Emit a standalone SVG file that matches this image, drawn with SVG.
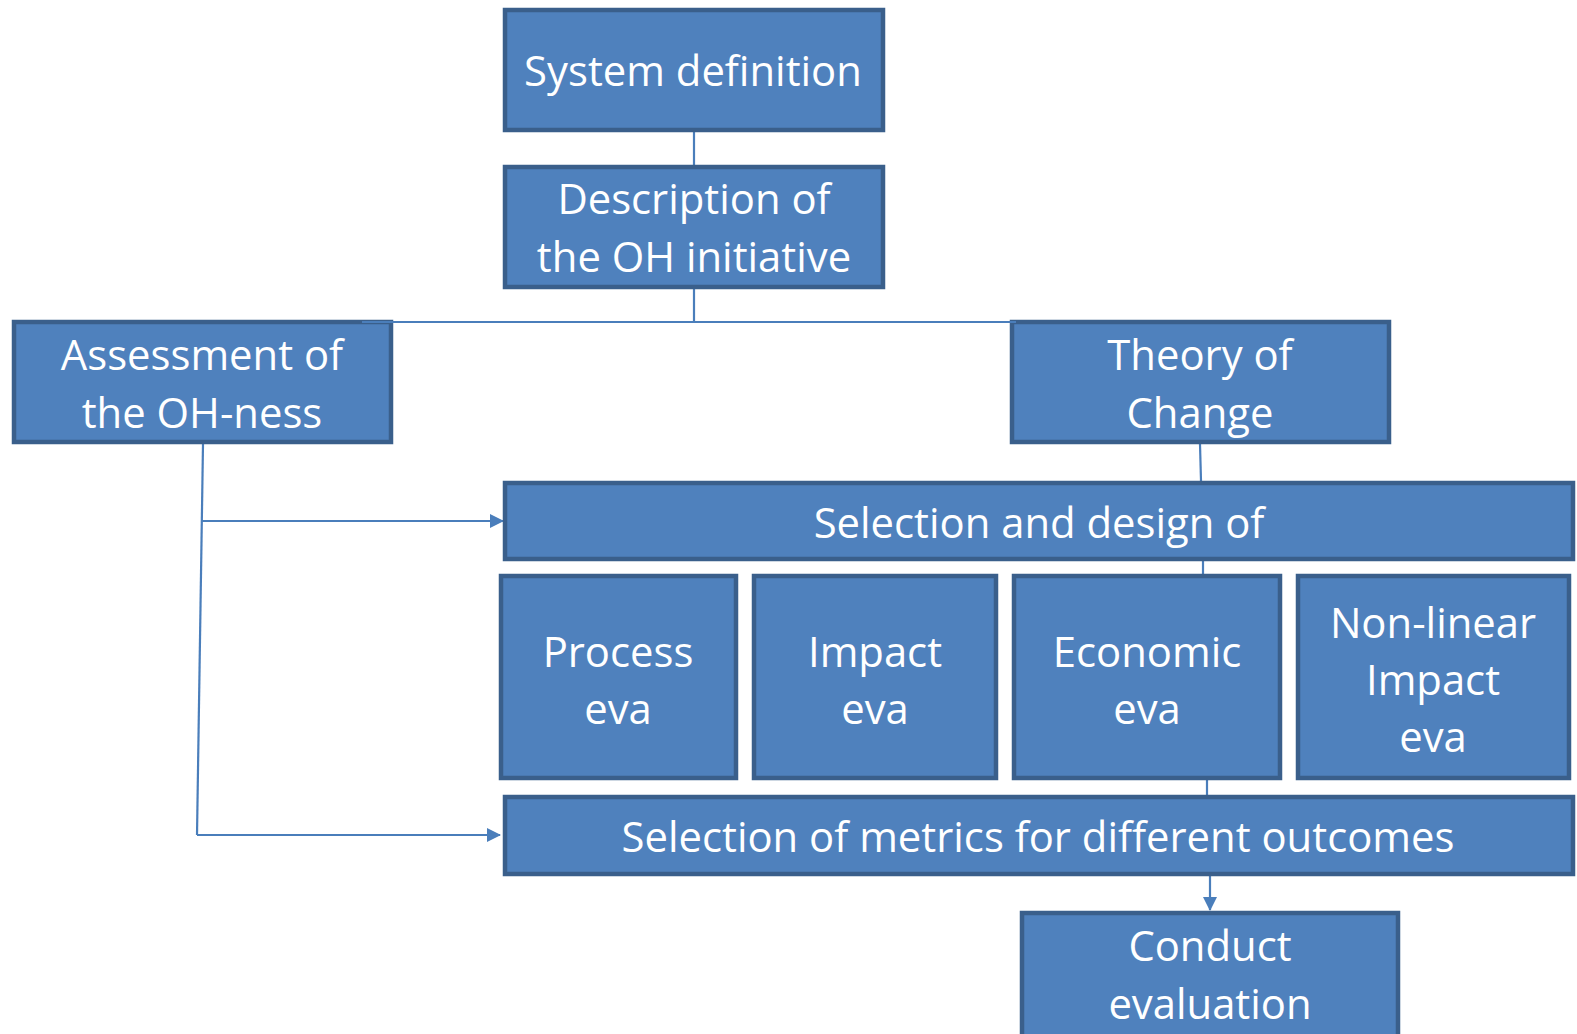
<svg xmlns="http://www.w3.org/2000/svg" width="1577" height="1034" viewBox="0 0 1577 1034">
<defs>
<style>
.box{fill:#4F81BD;stroke:#3A5F8B;stroke-width:4.5;}
.t{font-family:"Open Sans","Noto Sans","Liberation Sans",sans-serif;font-size:41.8px;fill:#FFFFFF;text-anchor:middle;}
.c{fill:none;stroke:#4A7EBB;stroke-width:2.2;}
</style>
<marker id="ahb" markerWidth="14" markerHeight="14" refX="13" refY="7" orient="auto" markerUnits="userSpaceOnUse" viewBox="0 0 14 14">
<path d="M0,0 L14,7 L0,14 z" fill="#4A7EBB"/>
</marker>
</defs>
<rect width="1577" height="1034" fill="#FFFFFF"/>
<g id="connectors">
<line class="c" x1="694" y1="132" x2="694" y2="165"/>
<line class="c" x1="694" y1="289" x2="694" y2="322"/>
<line class="c" x1="1200" y1="444" x2="1201" y2="481"/>
<line class="c" x1="1203" y1="561" x2="1203" y2="574"/>
<line class="c" x1="1207" y1="780" x2="1207" y2="795"/>
<line class="c" x1="1210" y1="876" x2="1210" y2="910" marker-end="url(#ahb)"/>
<line class="c" x1="203" y1="444" x2="197" y2="835"/>
<line class="c" x1="202" y1="521" x2="503" y2="521" marker-end="url(#ahb)"/>
<line class="c" x1="197" y1="835" x2="500" y2="835" marker-end="url(#ahb)"/>
</g>
<g id="system-definition">
<rect class="box" x="505" y="10" width="378" height="120"/>
<text class="t" x="693" y="86">System definition</text>
</g>
<g id="description">
<rect class="box" x="505" y="167" width="378" height="120"/>
<text class="t" x="694" y="214">Description of</text>
<text class="t" x="694" y="272">the OH initiative</text>
</g>
<g id="assessment">
<rect class="box" x="14" y="322" width="377" height="120"/>
<text class="t" x="202" y="370">Assessment of</text>
<text class="t" x="202" y="428">the OH-ness</text>
</g>
<g id="theory-of-change">
<rect class="box" x="1012" y="322" width="377" height="120"/>
<text class="t" x="1200" y="370">Theory of</text>
<text class="t" x="1200" y="428">Change</text>
</g>
<g id="selection-design">
<rect class="box" x="505" y="483" width="1068" height="76"/>
<text class="t" x="1039" y="538">Selection and design of</text>
</g>
<g id="process-eva">
<rect class="box" x="501" y="576" width="235" height="202"/>
<text class="t" x="618" y="667">Process</text>
<text class="t" x="618" y="724">eva</text>
</g>
<g id="impact-eva">
<rect class="box" x="754" y="576" width="242" height="202"/>
<text class="t" x="875" y="667">Impact</text>
<text class="t" x="875" y="724">eva</text>
</g>
<g id="economic-eva">
<rect class="box" x="1014" y="576" width="266" height="202"/>
<text class="t" x="1147" y="667">Economic</text>
<text class="t" x="1147" y="724">eva</text>
</g>
<g id="nonlinear-impact-eva">
<rect class="box" x="1298" y="576" width="271" height="202"/>
<text class="t" x="1433" y="638">Non-linear</text>
<text class="t" x="1433" y="695">Impact</text>
<text class="t" x="1433" y="752">eva</text>
</g>
<g id="selection-metrics">
<rect class="box" x="505" y="797" width="1068" height="77"/>
<text class="t" x="1038" y="852">Selection of metrics for different outcomes</text>
</g>
<g id="conduct-evaluation">
<rect class="box" x="1022" y="913" width="376" height="130"/>
<text class="t" x="1210" y="961">Conduct</text>
<text class="t" x="1210" y="1019">evaluation</text>
</g>
<g id="top-connector">
<line class="c" x1="362" y1="322" x2="1016" y2="322"/>
</g>
</svg>
